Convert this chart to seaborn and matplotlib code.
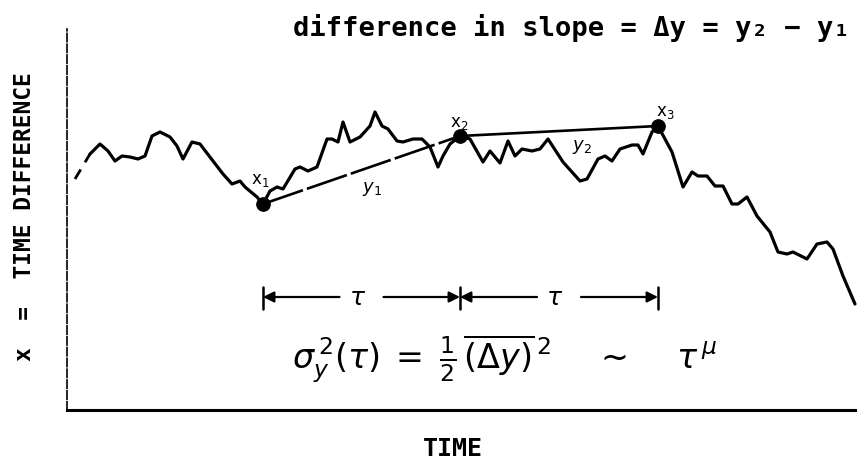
import matplotlib
matplotlib.use("Agg")
import matplotlib.pyplot as plt
import seaborn as sns
import pandas as pd

# Time-difference record x(t): a wandering clock-phase trace
time = [23, 33, 41, 48, 55, 63, 71, 78, 85, 93, 103, 110, 116, 125, 133, 146,
        156, 165, 173, 178, 190, 196, 203, 210, 216, 228, 233, 241, 250, 260,
        265, 271, 276, 283, 293, 303, 308, 315, 321, 330, 336, 346, 355, 363,
        371, 376, 383, 393, 403, 416, 423, 433, 441, 448, 455, 465, 473, 481,
        496, 513, 520, 531, 538, 545, 553, 565, 571, 576, 585, 591, 605, 616,
        625, 631, 640, 648, 656, 665, 671, 680, 690, 703, 711, 720, 726, 740,
        750, 760, 766, 776, 788]
time_diff = [256, 266, 259, 249, 254, 253, 251, 254, 274, 278, 273, 264, 251,
             268, 266, 249, 236, 226, 229, 223, 213, 206, 219, 223, 221, 241,
             243, 239, 243, 271, 271, 268, 288, 268, 273, 284, 298, 284, 281,
             269, 268, 271, 271, 263, 243, 254, 266, 274, 271, 248, 259, 247,
             269, 254, 261, 259, 261, 271, 248, 229, 231, 251, 254, 249, 261,
             265, 265, 256, 278, 284, 258, 223, 238, 234, 234, 224, 224, 206,
             206, 213, 194, 178, 158, 156, 158, 151, 166, 168, 161, 134, 106]

# Dashed lead-in before the record starts
lead_time = [8, 23]
lead_diff = [231, 256]

# Sample points x1, x2, x3 spaced by tau
key_time = [196, 393, 591]
key_diff = [206, 274, 284]
key_labels = ["x$_1$", "x$_2$", "x$_3$"]
slope_labels = ["$y_1$", "$y_2$"]

title_text = "difference in slope = Δy = y₂ − y₁"
ylabel_text = "x  =  TIME DIFFERENCE"
xlabel_text = "TIME"
tau_text = r"$\tau$"
formula_text = (r"$\sigma_y^{\,2}(\tau)\;=\;\frac{1}{2}\,\overline{(\Delta y)}^{\,2}"
                r"\quad\;\sim\quad\;\tau^{\,\mu}$")

sns.set_style("white")
plt.rcParams["mathtext.fontset"] = "dejavusans"
plt.rcParams["font.family"] = ["DejaVu Sans"]
plt.rcParams["text.color"] = "black"

W, H = 857, 460
fig = plt.figure(figsize=(W / 100, H / 100), dpi=100)
ax = fig.add_axes([67 / W, (H - 411) / H, (W - 67) / W, (411 - 30) / H])
ax.set_xlim(0, 790)
ax.set_ylim(0, 381)

df = pd.DataFrame({"time": time, "diff": time_diff})
sns.lineplot(data=df, x="time", y="diff", ax=ax, sort=False, estimator=None,
             color="black", lw=2.3, solid_joinstyle="round")
ax.plot(lead_time, lead_diff, color="black", lw=2.0, ls=(0, (4, 3)))

# Straight segments joining the sample points (the two average slopes)
ax.plot(key_time[:2], key_diff[:2], color="black", lw=1.9, ls=(0, (16, 1.6)))
ax.plot(key_time[1:], key_diff[1:], color="black", lw=1.9)
sns.scatterplot(x=key_time, y=key_diff, ax=ax, color="black", s=95,
                edgecolor="black", zorder=5, legend=False)

label_offsets = [(-3, 25), (-1, 14), (7, 15)]
for t, v, lab, (dx, dy) in zip(key_time, key_diff, key_labels, label_offsets):
    ax.text(t + dx, v + dy, lab, ha="center", va="center", fontsize=12,
            color="black")
for i, lab in enumerate(slope_labels):
    tm = (key_time[i] + key_time[i + 1]) / 2
    vm = (key_diff[i] + key_diff[i + 1]) / 2
    off = [(10, -18), (23, -15)][i]
    ax.text(tm + off[0], vm + off[1], lab, ha="center", va="center",
            fontsize=13, color="black")

# tau interval markers
y_tau = 113
for t in key_time:
    ax.plot([t, t], [101, 123], color="black", lw=1.8)
arrow = dict(arrowstyle="-|>", color="black", lw=1.6, mutation_scale=16,
             shrinkA=0, shrinkB=0)
for i in range(2):
    t0, t1 = key_time[i], key_time[i + 1]
    tm = (t0 + t1) / 2
    ax.annotate("", xy=(t0, y_tau), xytext=(tm - 22, y_tau), arrowprops=arrow)
    ax.annotate("", xy=(t1, y_tau), xytext=(tm + 22, y_tau), arrowprops=arrow)
    ax.text(tm - 4, y_tau, tau_text, ha="center", va="center", fontsize=18,
            color="black")

ax.text(438, 52, formula_text, ha="center", va="center", fontsize=24,
        color="black")

ax.text(571 - 67, 383, title_text, ha="center", va="center", fontsize=19.5,
        family="DejaVu Sans Mono", fontweight="bold", color="black",
        clip_on=False)
ax.text(-42, 194, ylabel_text, ha="center", va="center", rotation=90,
        fontsize=16.5, family="DejaVu Sans Mono", fontweight="bold",
        color="black", clip_on=False)
ax.text(386, -38, xlabel_text, ha="center", va="center", fontsize=18,
        family="DejaVu Sans Mono", fontweight="bold", color="black",
        clip_on=False)

ax.set_xlabel("")
ax.set_ylabel("")
ax.set_xticks([])
ax.set_yticks([])
for side in ["top", "right"]:
    ax.spines[side].set_visible(False)
ax.spines["bottom"].set_linewidth(2.2)
ax.spines["bottom"].set_color("black")
ax.spines["left"].set_linewidth(1.2)
ax.spines["left"].set_color("black")
ax.spines["left"].set_linestyle((0, (5, 1.5)))

fig.savefig("out.png", dpi=100, facecolor="white")
